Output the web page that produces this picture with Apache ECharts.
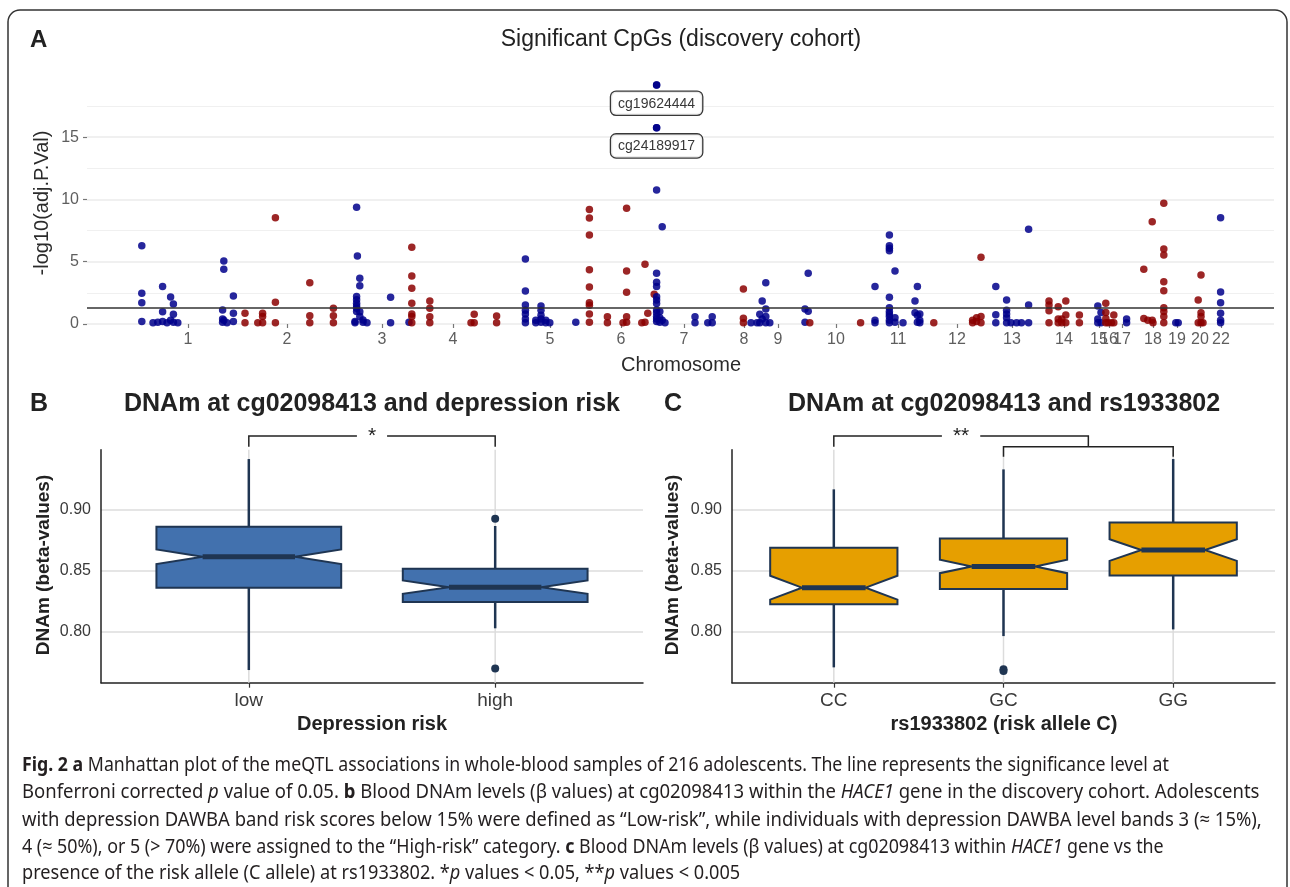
<!DOCTYPE html>
<html><head><meta charset="utf-8">
<script src="https://cdn.jsdelivr.net/npm/echarts@6/dist/echarts.min.js"></script>
<style>html,body{margin:0;padding:0;background:#fff}#c{width:1290px;height:887px}</style>
</head><body><div id="c"></div>
<script>
// ---------- Panel A: Manhattan plot data  [cumulative position (Mb), -log10(adj.P.Val)] ----------
const chr1 = [[137,6.28],[137,2.46],[137,1.71],[137,0.2],[165,0.1],[177,0.15],[189,3.0],[189,0.99],[189,0.2],[200,0.1],[209,2.17],[209,0.3],[216,1.6],[216,0.78],[216,0.15],[227,0.1],[339,1.12],[339,0.4],[339,0.15],[342,5.06],[342,4.39],[342,0.3],[350,0.1],[366,2.25],[366,0.86],[366,0.2]];
const chr2 = [[395,0.86],[395,0.1],[427,0.1],[439,0.86],[439,0.6],[439,0.1],[471,8.53],[471,1.74],[471,0.1],[557,3.32],[557,0.67],[557,0.1],[616,1.26],[616,0.67],[616,0.1]];
const chr3 = [[670,0.2],[670,0.1],[674,9.37],[674,2.2],[674,1.94],[674,1.67],[674,1.44],[674,1.27],[674,1.0],[676,5.46],[682,3.67],[682,3.07],[682,0.99],[682,0.6],[690,0.33],[690,0.15],[700,0.1],[759,2.14],[759,0.1],[805,0.15]];
const chr4 = [[812,6.15],[812,3.85],[812,2.86],[812,1.66],[812,0.8],[812,0.6],[812,0.1],[857,1.85],[857,1.26],[857,0.59],[857,0.1],[960,0.1],[968,0.78],[968,0.1],[1024,0.64],[1024,0.1]];
const chr5 = [[1096,5.22],[1096,2.65],[1096,1.52],[1096,1.1],[1096,0.8],[1096,0.4],[1096,0.1],[1122,0.3],[1122,0.1],[1135,1.44],[1135,1.1],[1135,0.7],[1135,0.4],[1135,0.15],[1147,0.3],[1147,0.1],[1157,0.1],[1222,0.15]];
const chr6 = [[1256,9.18],[1256,8.5],[1256,7.14],[1256,4.36],[1256,2.97],[1256,1.71],[1256,1.5],[1256,0.8],[1256,0.15],[1301,0.59],[1301,0.1],[1340,0.1],[1349,9.28],[1349,4.25],[1349,2.54],[1349,0.59],[1349,0.15],[1387,0.1],[1395,4.79],[1395,0.15],[1402,0.86],[1418,2.38]];
const chr7 = [[1424,19.18],[1424,15.76],[1424,10.75],[1424,4.07],[1424,3.35],[1424,3.0],[1424,2.19],[1424,1.92],[1424,1.65],[1424,1.12],[1424,0.9],[1424,0.6],[1424,0.4],[1424,0.2],[1432,1.0],[1432,0.5],[1432,0.15],[1438,7.8],[1438,0.3],[1445,0.1],[1520,0.59],[1520,0.1],[1552,0.1],[1563,0.59],[1563,0.1]];
const chr8 = [[1641,2.81],[1641,0.46],[1641,0.1]];
const chr9 = [[1660,0.1],[1675,0.1],[1682,0.78],[1682,0.1],[1688,1.85],[1688,0.4],[1697,3.32],[1697,1.2],[1697,0.6],[1697,0.1],[1707,0.1],[1795,1.2],[1795,0.15],[1803,4.07],[1803,1.02]];
const chr10 = [[1807,0.1],[1934,0.1]];
const chr11 = [[1970,3.0],[1970,0.3],[1970,0.1],[2006,7.14],[2006,6.28],[2006,6.07],[2006,5.88],[2006,2.14],[2006,1.3],[2006,1.0],[2006,0.8],[2006,0.6],[2006,0.3],[2006,0.1],[2020,4.25],[2020,0.5],[2020,0.15],[2040,0.1],[2070,1.85],[2070,0.9],[2076,3.0],[2076,0.7],[2076,0.15],[2082,0.8],[2082,0.3],[2082,0.1]];
const chr12 = [[2117,0.1],[2214,0.3],[2214,0.1],[2224,0.5],[2224,0.2],[2235,5.35],[2235,0.6],[2235,0.1]];
const chr13 = [[2272,3.0],[2272,0.75],[2272,0.1],[2299,1.93],[2299,1.1],[2299,0.8],[2299,0.5],[2299,0.1],[2310,0.1],[2324,0.1],[2336,0.1],[2354,7.6],[2354,1.52],[2354,0.1]];
const chr14 = [[2405,1.85],[2405,1.52],[2405,1.07],[2405,0.1],[2428,1.39],[2428,0.4],[2428,0.1],[2437,0.4],[2437,0.1],[2447,1.85],[2447,0.72],[2447,0.1],[2481,0.72],[2481,0.1]];
const chr15 = [[2527,1.44],[2527,0.4],[2527,0.1],[2535,0.93],[2535,0.1]];
const chr16 = [[2547,1.66],[2547,0.93],[2547,0.45],[2547,0.1],[2553,0.1],[2561,0.1],[2567,0.72],[2567,0.1]];
const chr17 = [[2599,0.4],[2599,0.1]];
const chr18 = [[2642,4.39],[2642,0.45],[2652,0.3],[2663,8.21],[2663,0.3],[2665,0.1],[2692,9.69],[2692,6.02],[2692,5.54],[2692,3.4],[2692,2.67],[2692,1.3],[2692,1.0],[2692,0.6],[2692,0.1]];
const chr19 = [[2722,0.1],[2728,0.1]];
const chr20 = [[2778,1.93],[2778,0.1],[2785,3.93],[2785,0.9],[2785,0.6],[2785,0.1],[2790,0.1]];
const chr22 = [[2834,8.53],[2834,2.57],[2834,1.71],[2834,0.86],[2834,0.3],[2834,0.1]];
const chromosomes = [['1',chr1],['2',chr2],['3',chr3],['4',chr4],['5',chr5],['6',chr6],['7',chr7],['8',chr8],['9',chr9],['10',chr10],['11',chr11],['12',chr12],['13',chr13],['14',chr14],['15',chr15],['16',chr16],['17',chr17],['18',chr18],['19',chr19],['20',chr20],['22',chr22]];
const chrTickPos   = [252.5,500,737.5,915,1157.5,1335,1492.5,1642.5,1727.5,1872.5,2027.5,2175,2312.5,2442.5,2530,2555,2587.5,2665,2725,2782.5,2835];
const chrTickLabel = ['1','2','3','4','5','6','7','8','9','10','11','12','13','14','15','16','17','18','19','20','22'];
const labelled = [['cg19624444',1424,19.18],['cg24189917',1424,15.76]];
const sigThreshold = 1.3;
const yTicksA = [0,5,10,15];

// ---------- Panels B and C: notched boxplots  [lowerWhisker, Q1, median, Q3, upperWhisker, notchHalf] ----------
const riskGroups = ['low','high'];
const riskBox = [[0.7685,0.8362,0.8616,0.8863,0.9419,0.0060],[0.8028,0.8244,0.8366,0.8517,0.8869,0.0055]];
const riskOutliers = [[2,0.8929],[2,0.7697]];
const riskSig = [[1,2,0.9608,0.9520,0.9520]];
const riskSigLabels = ['*'];
const genoGroups = ['CC','GC','GG'];
const genoBox = [[0.7707,0.8225,0.8362,0.8690,0.9170,0.0098],[0.7964,0.8352,0.8536,0.8767,0.9334,0.0055],[0.8019,0.8462,0.8671,0.8898,0.9419,0.0089]];
const genoOutliers = [[2,0.7692],[2,0.7678]];
const genoSig = [[1,2.5,0.9608,0.9520,0.9520],[2,3,0.9520,0.9438,0.9438]];
const genoSigLabels = ['**',''];
const yTicksBC = [0.80,0.85,0.90];

// ---------- styles ----------
const FONT = "'Liberation Sans', Arial, Helvetica, sans-serif";
const CAP_FONT = "'Noto Sans', 'Open Sans', sans-serif";
const BLUE = '#00008B', RED = '#8B0000';
const LINE = '#1F3552', FILL_B = '#4271AE', FILL_C = '#E69F00';

function boxRenderer(fill) {
  return function (params, api) {
    const x = api.value(0), w0 = api.value(1), q1 = api.value(2), med = api.value(3), q3 = api.value(4), w1 = api.value(5), nh = api.value(6);
    const hw = 0.375;
    const c = (xx, yy) => api.coord([xx, yy]);
    const cs = params.coordSys;
    const px = c(x, med)[0];
    const poly = [c(x-hw,q3), c(x+hw,q3), c(x+hw,med+nh), c(x+hw/2,med), c(x+hw,med-nh), c(x+hw,q1), c(x-hw,q1), c(x-hw,med-nh), c(x-hw/2,med), c(x-hw,med+nh)];
    return {type:'group', children:[
      {type:'line', shape:{x1:px, y1:cs.y, x2:px, y2:cs.y+cs.height}, style:{stroke:'#dcdcdc', lineWidth:1.5}},
      {type:'line', shape:{x1:px, y1:c(x,q3)[1], x2:px, y2:c(x,w1)[1]}, style:{stroke:LINE, lineWidth:2.5}},
      {type:'line', shape:{x1:px, y1:c(x,q1)[1], x2:px, y2:c(x,w0)[1]}, style:{stroke:LINE, lineWidth:2.5}},
      {type:'polygon', shape:{points:poly}, style:{fill:fill, stroke:LINE, lineWidth:2}},
      {type:'line', shape:{x1:c(x-hw/2,med)[0], y1:c(x,med)[1], x2:c(x+hw/2,med)[0], y2:c(x,med)[1]}, style:{stroke:LINE, lineWidth:5}}
    ]};
  };
}
function sigRenderer(labels) {
  return function (params, api) {
    const x1 = api.value(0), x2 = api.value(1), y = api.value(2), t1 = api.value(3), t2 = api.value(4);
    const a = api.coord([x1,t1]), b = api.coord([x1,y]), c2 = api.coord([x2,y]), d = api.coord([x2,t2]);
    const children = [{type:'polyline', shape:{points:[a,b,c2,d]}, style:{stroke:'#222', lineWidth:1.5, fill:'none'}}];
    const lab = labels[params.dataIndex];
    if (lab) children.push({type:'text', x:(b[0]+c2[0])/2, y:b[1], style:{text:lab, fontSize:21, fontFamily:FONT, fill:'#222', align:'center', verticalAlign:'middle', backgroundColor:'#fff', padding:[0,11]}});
    return {type:'group', children};
  };
}

const series = [];
chromosomes.forEach(([name, pts], i) => {
  series.push({type:'scatter', name:'chr'+name, xAxisIndex:0, yAxisIndex:0, data:pts, symbolSize:7.5, clip:true, silent:true, z:3,
    itemStyle:{color: i % 2 === 0 ? BLUE : RED, opacity:0.85}});
});
series[0].markLine = {silent:true, symbol:['none','none'], label:{show:false}, animation:false,
  lineStyle:{color:'#333', width:1.6, type:'solid'}, data:[{yAxis:sigThreshold}]};
series.push({type:'scatter', xAxisIndex:0, yAxisIndex:0, symbolSize:7.5, z:6, silent:true,
  itemStyle:{color:BLUE, opacity:0.9},
  data: labelled.map(d => ({name:d[0], value:[d[1], d[2]]})),
  label:{show:true, position:'bottom', distance:3, formatter:'{b}', fontSize:14, fontFamily:FONT, color:'#222',
    backgroundColor:'#fff', borderColor:'#222', borderWidth:1.3, borderRadius:5, padding:[5,7,4,7]}});

series.push({type:'custom', xAxisIndex:1, yAxisIndex:1, clip:false, silent:true, z:2, data: riskBox.map((s,i)=>[i+1].concat(s)), renderItem: boxRenderer(FILL_B)});
series.push({type:'scatter', xAxisIndex:1, yAxisIndex:1, silent:true, z:4, symbolSize:8, itemStyle:{color:LINE, opacity:1}, data: riskOutliers});
series.push({type:'custom', xAxisIndex:1, yAxisIndex:1, clip:false, silent:true, z:4, data: riskSig, renderItem: sigRenderer(riskSigLabels)});
series.push({type:'custom', xAxisIndex:2, yAxisIndex:2, clip:false, silent:true, z:2, data: genoBox.map((s,i)=>[i+1].concat(s)), renderItem: boxRenderer(FILL_C)});
series.push({type:'scatter', xAxisIndex:2, yAxisIndex:2, silent:true, z:4, symbolSize:8, itemStyle:{color:LINE, opacity:1}, data: genoOutliers});
series.push({type:'custom', xAxisIndex:2, yAxisIndex:2, clip:false, silent:true, z:4, data: genoSig, renderItem: sigRenderer(genoSigLabels)});

function catXAxis(grid, n, names) {
  const vals = names.map((_, i) => i + 1);
  return {gridIndex:grid, type:'value', min:0.4, max:n + 0.6,
    axisLine:{show:true, onZero:false, lineStyle:{color:'#222', width:1.5}},
    axisTick:{show:true, customValues:vals, length:5, lineStyle:{color:'#333', width:1.2}},
    axisLabel:{customValues:vals, formatter: v => names[Math.round(v) - 1], fontSize:19, color:'#3a3a3a', margin:9, fontFamily:FONT},
    splitLine:{show:false}};
}
function betaYAxis(grid) {
  return {gridIndex:grid, type:'value', min:0.7581, max:0.9495, splitNumber:4,
    axisLine:{show:true, onZero:false, lineStyle:{color:'#222', width:1.5}},
    axisTick:{show:false},
    axisLabel:{customValues:yTicksBC, formatter: v => v.toFixed(2), fontSize:16, color:'#3a3a3a', margin:10, fontFamily:FONT},
    splitLine:{show:true, lineStyle:{color:['rgba(0,0,0,0)','#dcdcdc','#dcdcdc','#dcdcdc','rgba(0,0,0,0)','rgba(0,0,0,0)'], width:1.5}}};
}

// ---------- texts ----------
const graphic = [];
graphic.push({type:'rect', silent:true, shape:{x:8, y:10, width:1279, height:900, r:[12,12,0,0]}, style:{fill:'none', stroke:'#333', lineWidth:1.5}});
function T(text, x, y, size, opt) {
  opt = opt || {};
  return {type:'text', x, y, silent:true, rotation: opt.rot || 0,
    style:{text, fontSize:size, fontFamily:FONT, fontWeight: opt.bold ? 'bold' : 'normal', fill: opt.fill || '#222',
      align: opt.align || 'center', verticalAlign:'middle'}};
}
graphic.push(T('A', 30, 40, 24, {bold:true, align:'left'}));
graphic.push(T('Significant CpGs (discovery cohort)', 681, 40, 23, {fill:'#222'}));
graphic.push(T('-log10(adj.P.Val)', 42, 203, 20, {rot:Math.PI/2, fill:'#2b2b2b'}));
graphic.push(T('Chromosome', 681, 365, 20, {fill:'#2b2b2b'}));
graphic.push(T('B', 30, 404, 25, {bold:true, align:'left'}));
graphic.push(T('DNAm at cg02098413 and depression risk', 372, 404, 25, {bold:true}));
graphic.push(T('C', 664, 404, 25, {bold:true, align:'left'}));
graphic.push(T('DNAm at cg02098413 and rs1933802', 1004, 404, 25, {bold:true}));
graphic.push(T('DNAm (beta-values)', 44, 565, 19, {bold:true, rot:Math.PI/2}));
graphic.push(T('DNAm (beta-values)', 673, 565, 19, {bold:true, rot:Math.PI/2}));
graphic.push(T('Depression risk', 372, 724, 20, {bold:true}));
graphic.push(T('rs1933802 (risk allele C)', 1004, 724, 20, {bold:true}));

// caption
const captionLines = [
  [['Fig. 2','b'],[' ',''],['a','b'],[' Manhattan plot of the meQTL associations in whole-blood samples of 216 adolescents. The line represents the significance level at','']],
  [['Bonferroni corrected ',''],['p','i'],[' value of 0.05. ',''],['b','b'],[' Blood DNAm levels (\u03b2 values) at cg02098413 within the ',''],['HACE1','i'],[' gene in the discovery cohort. Adolescents','']],
  [['with depression DAWBA band risk scores below 15% were defined as \u201cLow-risk\u201d, while individuals with depression DAWBA level bands 3 (\u2248 15%),','']],
  [['4 (\u2248 50%), or 5 (> 70%) were assigned to the \u201cHigh-risk\u201d category. ',''],['c','b'],[' Blood DNAm levels (\u03b2 values) at cg02098413 within ',''],['HACE1','i'],[' gene vs the','']],
  [['presence of the risk allele (C allele) at rs1933802. ',''],['*',''],['p','i'],[' values < 0.05, ',''],['**',''],['p','i'],[' values < 0.005','']]
];
const capSize = 20;
const capRight = [1142, 1283, 1283, 1146, 740];
const capY = [765, 792.5, 820, 847.5, 873];
const mctx = document.createElement('canvas').getContext('2d');
function segFont(s) { return (s === 'i' ? 'italic ' : 'normal ') + (s === 'b' ? 'bold ' : 'normal ') + capSize + 'px ' + CAP_FONT; }
let natTotal = 0, tgtTotal = 0;
const natW = captionLines.map((segs, k) => {
  let w = 0;
  segs.forEach(([t, s]) => { mctx.font = segFont(s); w += mctx.measureText(t).width; });
  natTotal += w; tgtTotal += capRight[k] - 22;
  return w;
});
const capScale = tgtTotal / natTotal;
captionLines.forEach((segs, k) => {
  // common condensing factor, nudged halfway toward each line's own fit
  const own = (capRight[k] - 22) / natW[k];
  const sx = capScale + (own - capScale) * 0.5;
  graphic.push({type:'text', x:22, y:capY[k], scaleX:sx, silent:true,
    style:{text: segs.map(([t, s]) => s ? '{' + s + '|' + t + '}' : t).join(''),
      fontSize:capSize, fontFamily:CAP_FONT, fill:'#231f20', align:'left', verticalAlign:'middle',
      rich:{b:{fontSize:capSize, fontFamily:CAP_FONT, fontWeight:'bold', fill:'#231f20'},
            i:{fontSize:capSize, fontFamily:CAP_FONT, fontStyle:'italic', fill:'#231f20'}}}});
});

const chart = echarts.init(document.getElementById('c'), null, {renderer:'canvas'});
chart.setOption({
  animation:false,
  textStyle:{fontFamily:FONT},
  grid:[
    {left:87, right:16, top:74.8, bottom:563, containLabel:false, outerBoundsMode:'none'},
    {left:101, width:542, top:449.8, height:232.9, containLabel:false, outerBoundsMode:'none'},
    {left:732, width:543, top:449.8, height:232.9, containLabel:false, outerBoundsMode:'none'}
  ],
  xAxis:[
    {gridIndex:0, type:'value', min:0, max:2967.5, axisLine:{show:false}, splitLine:{show:false},
      axisTick:{show:true, customValues:chrTickPos, length:4, lineStyle:{color:'#777', width:1.2}},
      axisLabel:{customValues:chrTickPos, formatter: v => chrTickLabel[chrTickPos.indexOf(v)], fontSize:16, color:'#5e5e5e', margin:8, fontFamily:FONT}},
    catXAxis(1, 2, riskGroups),
    catXAxis(2, 3, genoGroups)
  ],
  yAxis:[
    {gridIndex:0, type:'value', min:0, max:20, interval:5, axisLine:{show:false},
      axisTick:{show:true, customValues:yTicksA, length:4, lineStyle:{color:'#777', width:1.2}},
      axisLabel:{customValues:yTicksA, fontSize:16, color:'#5e5e5e', margin:8, fontFamily:FONT},
      splitLine:{show:true, lineStyle:{color:['#ebebeb','#ebebeb','#ebebeb','#ebebeb','rgba(0,0,0,0)'], width:1.5}},
      minorTick:{show:false, splitNumber:2},
      minorSplitLine:{show:true, lineStyle:{color:'#f0f0f0', width:1.2}}},
    betaYAxis(1),
    betaYAxis(2)
  ],
  series,
  graphic
});
</script></body></html>
